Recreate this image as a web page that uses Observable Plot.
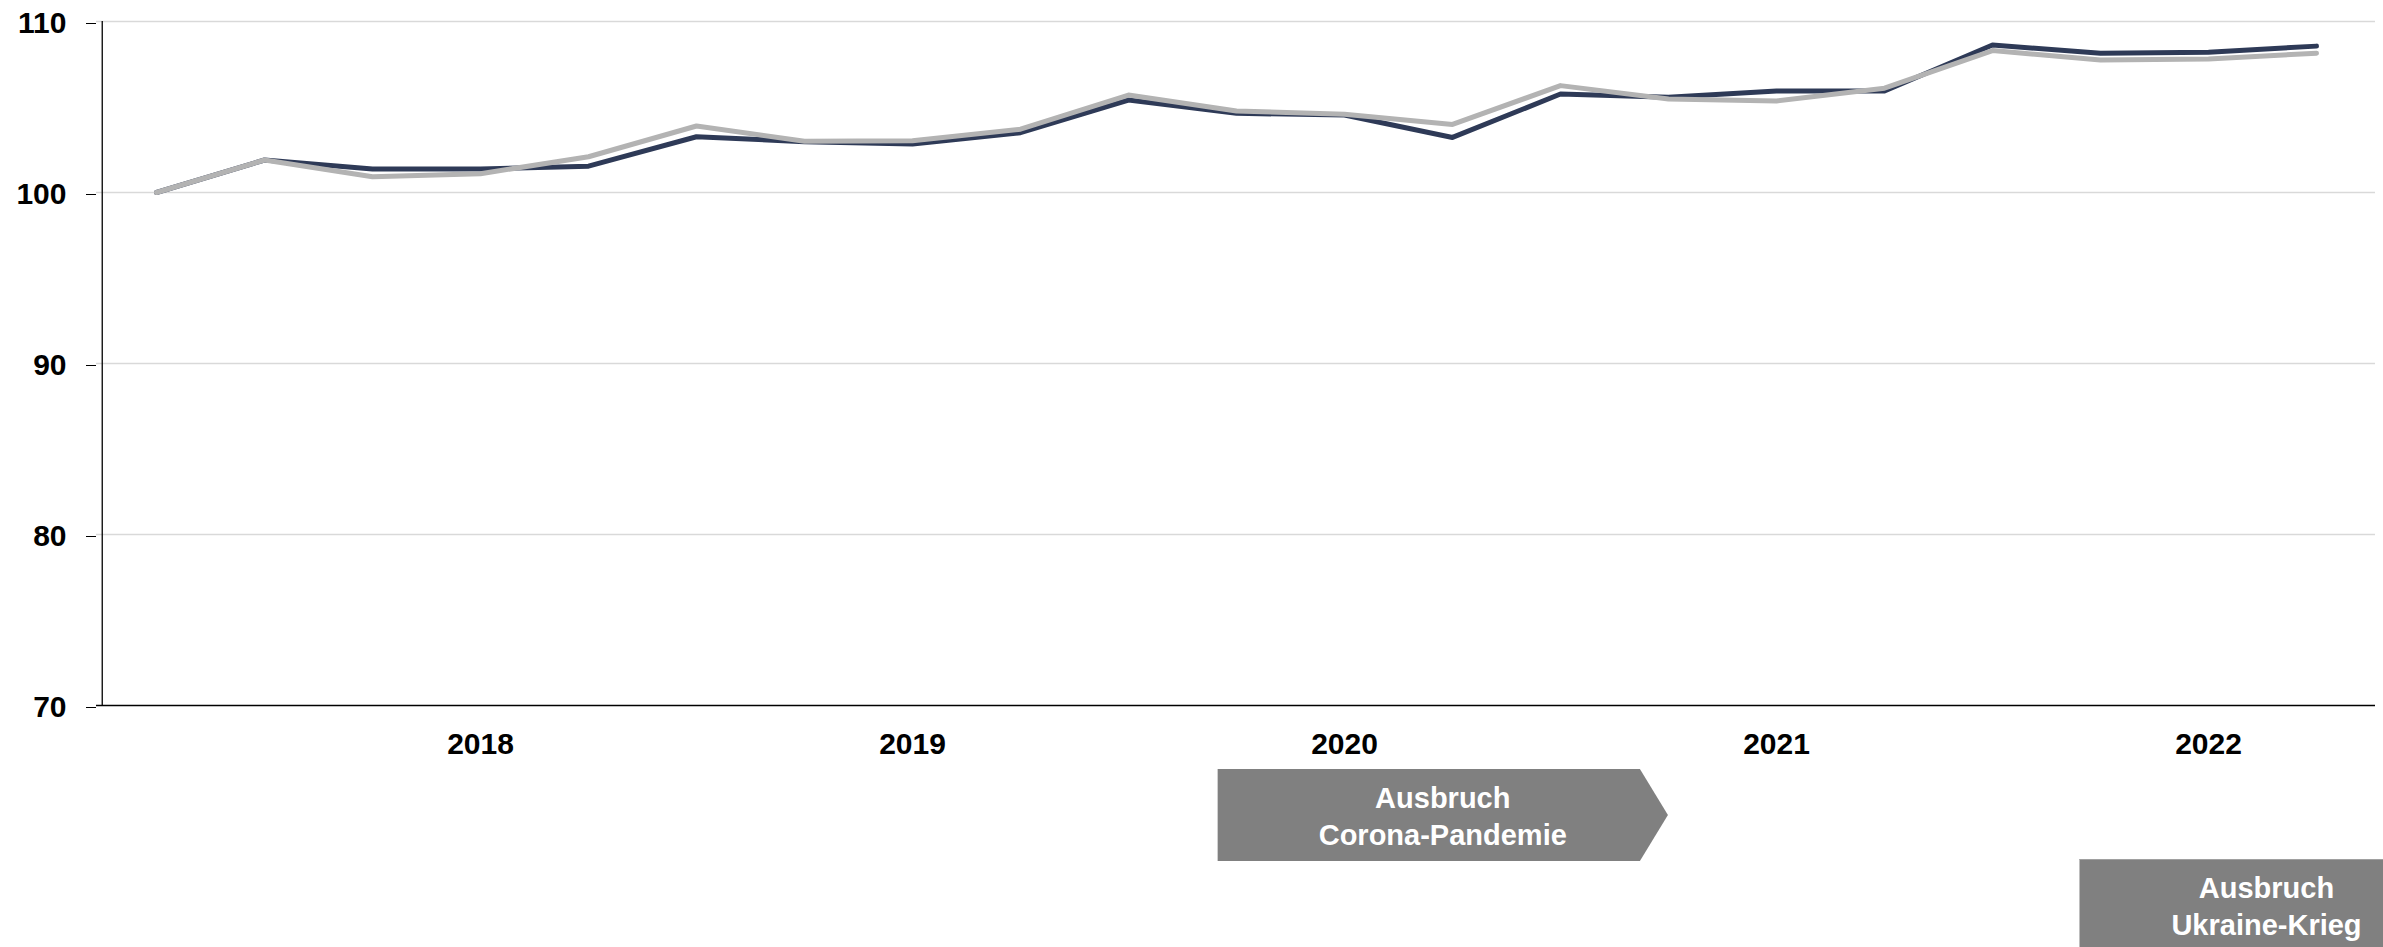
<!DOCTYPE html>
<html>
<head>
<meta charset="utf-8">
<script src="https://cdn.jsdelivr.net/npm/d3@7"></script>
<script src="https://cdn.jsdelivr.net/npm/@observablehq/plot@0.6"></script>
<style>
  html, body { margin: 0; padding: 0; background: #fff; }
  #chart { position: relative; width: 2383px; height: 947px; overflow: hidden; }
</style>
</head>
<body>
<div id="chart"></div>
<script>
// ---- Data ----
const quarters = [
  "2017-Q2","2017-Q3","2017-Q4",
  "2018-Q1","2018-Q2","2018-Q3","2018-Q4",
  "2019-Q1","2019-Q2","2019-Q3","2019-Q4",
  "2020-Q1","2020-Q2","2020-Q3","2020-Q4",
  "2021-Q1","2021-Q2","2021-Q3","2021-Q4",
  "2022-Q1","2022-Q2"
];
const seriesDark = [100, 101.9, 101.37, 101.37, 101.54, 103.26, 102.97, 102.83, 103.5, 105.41, 104.63,
                    104.53, 103.22, 105.76, 105.57, 105.94, 105.94, 108.63, 108.14, 108.2, 108.56];
const seriesGray = [100, 101.9, 100.92, 101.1, 102.09, 103.89, 103.0, 103.03, 103.7, 105.7, 104.77,
                    104.57, 103.98, 106.25, 105.47, 105.35, 106.1, 108.3, 107.75, 107.81, 108.15];
const yTicks = [70, 80, 90, 100, 110];
const gridTicks = [80, 90, 100, 110];
const yearTickQuarters = ["2018-Q1","2019-Q1","2020-Q1","2021-Q1","2022-Q1"];
const yearTickLabels = ["2018","2019","2020","2021","2022"];
const eventLines = [["Ausbruch","Corona-Pandemie"], ["Ausbruch","Ukraine-Krieg"]];
// event anchors in quarter-index units (fractional positions along the category axis)
const eventStart = [9.83, 17.81];
const eventEnd = [13.74, null];

// ---- Build table ----
const dark = quarters.map((q, i) => ({q, v: seriesDark[i]}));
const gray = quarters.map((q, i) => ({q, v: seriesGray[i]}));

const W = 2383, H = 947;
const mL = 96, mR = 8, mT = 21, mB = 242;
const step = (W - mL - mR) / quarters.length;
const FONT = "'Liberation Sans', Arial, Helvetica, sans-serif";

const plot = Plot.plot({
  width: W,
  height: H,
  marginLeft: mL,
  marginRight: mR,
  marginTop: mT,
  marginBottom: mB,
  style: { fontFamily: FONT, fontSize: "30px", fontWeight: "bold", color: "#000", background: "#fff", overflow: "visible" },
  x: { type: "point", domain: quarters, padding: 0.5, label: null },
  y: { domain: [70, 110], label: null },
  marks: [
    Plot.gridY(gridTicks, { stroke: "#d9d9d9", strokeOpacity: 1, strokeWidth: 1.3 }),
    Plot.axisY({ ticks: yTicks, tickSize: 10, tickPadding: 20, tickFormat: d => String(d), label: null, stroke: "#000", dy: 2 }),
    Plot.axisX({ ticks: yearTickQuarters, tickSize: 0, tickPadding: 27, tickFormat: q => yearTickLabels[yearTickQuarters.indexOf(q)], label: null }),
    Plot.ruleX([quarters[0]], { y1: 70, y2: 110, dx: -step / 2, stroke: "#000", strokeWidth: 1.3 }),
    Plot.ruleY([70], { stroke: "#000", strokeWidth: 1.6 }),
    Plot.line(dark, { x: "q", y: "v", stroke: "#2e3a57", strokeWidth: 5, strokeLinecap: "round", strokeLinejoin: "round" }),
    Plot.line(gray, { x: "q", y: "v", stroke: "#b3b3b3", strokeWidth: 5, strokeLinecap: "round", strokeLinejoin: "round" })
  ]
});

document.getElementById("chart").appendChild(plot);

// ---- Event annotations below the axis, positioned with the plot's x scale ----
const xs = plot.scale("x");
const x0 = xs.apply(quarters[0]);
const st = xs.apply(quarters[1]) - x0;
const pos = i => x0 + i * st;
const axisY = H - mB;
const svg = d3.select(plot);
const g = svg.append("g").attr("font-family", FONT).attr("font-size", 29).attr("font-weight", "bold");

// Corona arrow
{
  const L = pos(eventStart[0]), R = pos(eventEnd[0]);
  const top = axisY + 64, bot = axisY + 156, tip = R + 28, mid = (top + bot) / 2;
  g.append("polygon")
    .attr("points", [[L, top], [R, top], [tip, mid], [R, bot], [L, bot]].map(p => p.join(",")).join(" "))
    .attr("fill", "#808080");
  const cx = (L + tip) / 2;
  eventLines[0].forEach((t, j) => {
    g.append("text").attr("x", cx).attr("y", axisY + 103 + j * 37)
      .attr("text-anchor", "middle").attr("fill", "#fff").text(t);
  });
}
// Ukraine box
{
  const L = pos(eventStart[1]);
  const top = axisY + 154;
  g.append("rect").attr("x", L).attr("y", top).attr("width", W - L + 10).attr("height", 100).attr("fill", "#808080");
  g.append("line").attr("x1", L).attr("x2", W).attr("y1", top + 0.5).attr("y2", top + 0.5).attr("stroke", "#a0a0a0").attr("stroke-width", 1);
  const cx = L + 187;
  eventLines[1].forEach((t, j) => {
    g.append("text").attr("x", cx).attr("y", axisY + 193 + j * 37)
      .attr("text-anchor", "middle").attr("fill", "#fff").text(t);
  });
}
</script>
</body>
</html>
